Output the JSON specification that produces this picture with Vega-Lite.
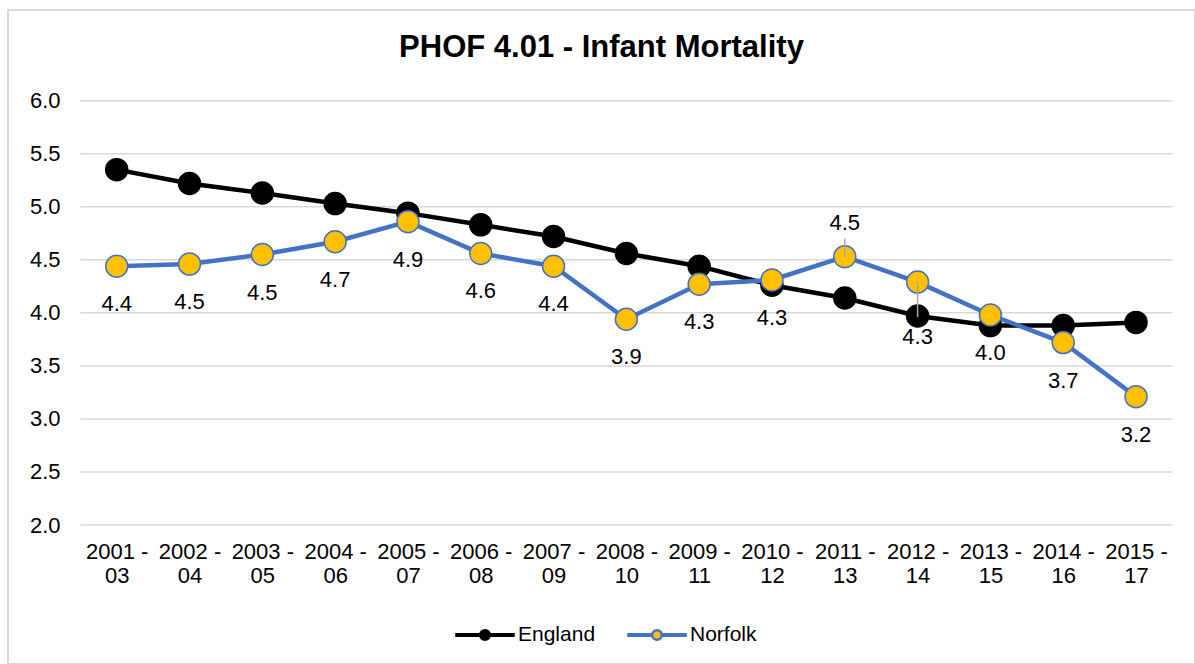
{
  "$schema": "https://vega.github.io/schema/vega-lite/v6.json",
  "width": 1187,
  "height": 654,
  "autosize": {"type": "none"},
  "padding": {"left": 8, "top": 10, "right": 0, "bottom": 0},
  "background": "white",
  "config": {
    "view": {"stroke": "#d9d9d9", "strokeWidth": 2},
    "font": "Liberation Sans"
  },
  "title": {
    "text": "PHOF 4.01 - Infant Mortality",
    "fontSize": 31,
    "fontWeight": "bold",
    "font": "Liberation Sans",
    "color": "#000000",
    "anchor": "middle",
    "frame": "group",
    "offset": -48,
    "dy": 30,
    "baseline": "alphabetic"
  },
  "datasets": {
    "rates": [
      {"start": 2001, "period": "2001 - 03", "series": "England", "value": 5.35},
      {"start": 2002, "period": "2002 - 04", "series": "England", "value": 5.22},
      {"start": 2003, "period": "2003 - 05", "series": "England", "value": 5.13},
      {"start": 2004, "period": "2004 - 06", "series": "England", "value": 5.03},
      {"start": 2005, "period": "2005 - 07", "series": "England", "value": 4.94},
      {"start": 2006, "period": "2006 - 08", "series": "England", "value": 4.83},
      {"start": 2007, "period": "2007 - 09", "series": "England", "value": 4.72},
      {"start": 2008, "period": "2008 - 10", "series": "England", "value": 4.56},
      {"start": 2009, "period": "2009 - 11", "series": "England", "value": 4.44},
      {"start": 2010, "period": "2010 - 12", "series": "England", "value": 4.26},
      {"start": 2011, "period": "2011 - 13", "series": "England", "value": 4.14},
      {"start": 2012, "period": "2012 - 14", "series": "England", "value": 3.97},
      {"start": 2013, "period": "2013 - 15", "series": "England", "value": 3.88},
      {"start": 2014, "period": "2014 - 16", "series": "England", "value": 3.88},
      {"start": 2015, "period": "2015 - 17", "series": "England", "value": 3.91},
      {"start": 2001, "period": "2001 - 03", "series": "Norfolk", "value": 4.44},
      {"start": 2002, "period": "2002 - 04", "series": "Norfolk", "value": 4.46},
      {"start": 2003, "period": "2003 - 05", "series": "Norfolk", "value": 4.55},
      {"start": 2004, "period": "2004 - 06", "series": "Norfolk", "value": 4.67},
      {"start": 2005, "period": "2005 - 07", "series": "Norfolk", "value": 4.86},
      {"start": 2006, "period": "2006 - 08", "series": "Norfolk", "value": 4.56},
      {"start": 2007, "period": "2007 - 09", "series": "Norfolk", "value": 4.44},
      {"start": 2008, "period": "2008 - 10", "series": "Norfolk", "value": 3.94},
      {"start": 2009, "period": "2009 - 11", "series": "Norfolk", "value": 4.27},
      {"start": 2010, "period": "2010 - 12", "series": "Norfolk", "value": 4.31},
      {"start": 2011, "period": "2011 - 13", "series": "Norfolk", "value": 4.53},
      {"start": 2012, "period": "2012 - 14", "series": "Norfolk", "value": 4.29},
      {"start": 2013, "period": "2013 - 15", "series": "Norfolk", "value": 3.98},
      {"start": 2014, "period": "2014 - 16", "series": "Norfolk", "value": 3.72},
      {"start": 2015, "period": "2015 - 17", "series": "Norfolk", "value": 3.21}
    ],
    "gridlines": [
      {"v": 2.0}, {"v": 2.5}, {"v": 3.0}, {"v": 3.5}, {"v": 4.0},
      {"v": 4.5}, {"v": 5.0}, {"v": 5.5}, {"v": 6.0}
    ],
    "leaders": [
      {"start": 2011, "from": 4.53, "to": 4.70},
      {"start": 2012, "from": 4.29, "to": 3.96}
    ]
  },
  "layer": [
    {
      "data": {"name": "gridlines"},
      "mark": {"type": "rule", "color": "#d9d9d9", "strokeWidth": 1.5},
      "encoding": {
        "y": {"field": "v", "type": "quantitative", "scale": {"domain": [0.69, 6.855], "zero": false, "nice": false},
          "axis": {"values": [2, 2.5, 3, 3.5, 4, 4.5, 5, 5.5, 6], "format": ".1f", "orient": "left", "offset": -72, "domain": false, "ticks": false, "grid": false, "labelFontSize": 22, "labelFont": "Liberation Sans", "labelColor": "#000000", "labelPadding": 20, "title": null}},
        "x": {"datum": 2000.5, "type": "quantitative", "scale": {"domain": [1999.507, 2015.81], "zero": false, "nice": false},
          "axis": {"values": [2001, 2002, 2003, 2004, 2005, 2006, 2007, 2008, 2009, 2010, 2011, 2012, 2013, 2014, 2015], "labelExpr": "[datum.value + ' -', slice(toString(datum.value + 2), 2)]", "orient": "bottom", "offset": -139, "domain": false, "ticks": false, "grid": false, "labelFontSize": 22, "labelFont": "Liberation Sans", "labelColor": "#000000", "labelPadding": 16, "labelLineHeight": 24, "labelOverlap": false, "labelFlush": false, "labelBound": false, "title": null}},
        "x2": {"datum": 2015.5}
      }
    },
    {
      "data": {"name": "rates"},
      "mark": {"type": "line", "strokeWidth": 4.5},
      "encoding": {
        "x": {"field": "start", "type": "quantitative", "scale": {"domain": [1999.507, 2015.81], "zero": false, "nice": false}},
        "y": {"field": "value", "type": "quantitative", "scale": {"domain": [0.69, 6.855], "zero": false, "nice": false}},
        "stroke": {"field": "series", "type": "nominal", "scale": {"domain": ["England", "Norfolk"], "range": ["#000000", "#4472C4"]},
          "legend": {"title": null, "orient": "none", "legendX": 447, "legendY": 595, "direction": "horizontal", "symbolType": "M-1,-0.03 L-0.17,-0.03 L-0.17,0.03 L-1,0.03 Z M0.17,-0.03 L1,-0.03 L1,0.03 L0.17,0.03 Z M0.17,0 A0.17,0.17 0 1,1 -0.17,0 A0.17,0.17 0 1,1 0.17,0 Z", "symbolSize": 3249, "symbolStrokeWidth": 2.5, "labelFontSize": 21, "labelFont": "Liberation Sans", "labelColor": "#000000", "labelOffset": 3, "columnPadding": 27, "padding": 0}}
      }
    },
    {
      "data": {"name": "rates"},
      "mark": {"type": "point", "shape": "circle", "filled": true, "size": 484, "strokeWidth": 1.5, "opacity": 1},
      "encoding": {
        "x": {"field": "start", "type": "quantitative", "scale": {"domain": [1999.507, 2015.81], "zero": false, "nice": false}},
        "y": {"field": "value", "type": "quantitative", "scale": {"domain": [0.69, 6.855], "zero": false, "nice": false}},
        "fill": {"field": "series", "type": "nominal", "scale": {"domain": ["England", "Norfolk"], "range": ["#000000", "#FFC000"]},
          "legend": {"title": null, "orient": "none", "legendX": 447, "legendY": 595, "direction": "horizontal", "symbolType": "M-1,-0.03 L-0.17,-0.03 L-0.17,0.03 L-1,0.03 Z M0.17,-0.03 L1,-0.03 L1,0.03 L0.17,0.03 Z M0.17,0 A0.17,0.17 0 1,1 -0.17,0 A0.17,0.17 0 1,1 0.17,0 Z", "symbolSize": 3249, "symbolStrokeWidth": 2.5, "labelFontSize": 21, "labelFont": "Liberation Sans", "labelColor": "#000000", "labelOffset": 3, "columnPadding": 27, "padding": 0}},
        "stroke": {"field": "series", "type": "nominal", "scale": {"domain": ["England", "Norfolk"], "range": ["#000000", "#4472C4"]},
          "legend": {"title": null, "orient": "none", "legendX": 447, "legendY": 595, "direction": "horizontal", "symbolType": "M-1,-0.03 L-0.17,-0.03 L-0.17,0.03 L-1,0.03 Z M0.17,-0.03 L1,-0.03 L1,0.03 L0.17,0.03 Z M0.17,0 A0.17,0.17 0 1,1 -0.17,0 A0.17,0.17 0 1,1 0.17,0 Z", "symbolSize": 3249, "symbolStrokeWidth": 2.5, "labelFontSize": 21, "labelFont": "Liberation Sans", "labelColor": "#000000", "labelOffset": 3, "columnPadding": 27, "padding": 0}}
      }
    },
    {
      "data": {"name": "leaders"},
      "mark": {"type": "rule", "color": "#a6a6a6", "strokeWidth": 1.5},
      "encoding": {
        "x": {"field": "start", "type": "quantitative", "scale": {"domain": [1999.507, 2015.81], "zero": false, "nice": false}},
        "y": {"field": "from", "type": "quantitative", "scale": {"domain": [0.69, 6.855], "zero": false, "nice": false}},
        "y2": {"field": "to"}
      }
    },
    {
      "data": {"name": "rates"},
      "transform": [{"filter": "datum.series == 'Norfolk' && datum.start != 2011 && datum.start != 2012"}],
      "mark": {"type": "text", "fontSize": 22, "font": "Liberation Sans", "color": "#000000", "baseline": "middle", "align": "center", "dy": 38},
      "encoding": {
        "x": {"field": "start", "type": "quantitative", "scale": {"domain": [1999.507, 2015.81], "zero": false, "nice": false}},
        "y": {"field": "value", "type": "quantitative", "scale": {"domain": [0.69, 6.855], "zero": false, "nice": false}},
        "text": {"field": "value", "type": "quantitative", "format": ".1f"}
      }
    },
    {
      "data": {"name": "rates"},
      "transform": [{"filter": "datum.series == 'Norfolk' && datum.start == 2011"}],
      "mark": {"type": "text", "fontSize": 22, "font": "Liberation Sans", "color": "#000000", "baseline": "middle", "align": "center", "dy": -34},
      "encoding": {
        "x": {"field": "start", "type": "quantitative", "scale": {"domain": [1999.507, 2015.81], "zero": false, "nice": false}},
        "y": {"field": "value", "type": "quantitative", "scale": {"domain": [0.69, 6.855], "zero": false, "nice": false}},
        "text": {"field": "value", "type": "quantitative", "format": ".1f"}
      }
    },
    {
      "data": {"name": "rates"},
      "transform": [{"filter": "datum.series == 'Norfolk' && datum.start == 2012"}],
      "mark": {"type": "text", "fontSize": 22, "font": "Liberation Sans", "color": "#000000", "baseline": "middle", "align": "center", "dy": 55},
      "encoding": {
        "x": {"field": "start", "type": "quantitative", "scale": {"domain": [1999.507, 2015.81], "zero": false, "nice": false}},
        "y": {"field": "value", "type": "quantitative", "scale": {"domain": [0.69, 6.855], "zero": false, "nice": false}},
        "text": {"field": "value", "type": "quantitative", "format": ".1f"}
      }
    }
  ]
}
